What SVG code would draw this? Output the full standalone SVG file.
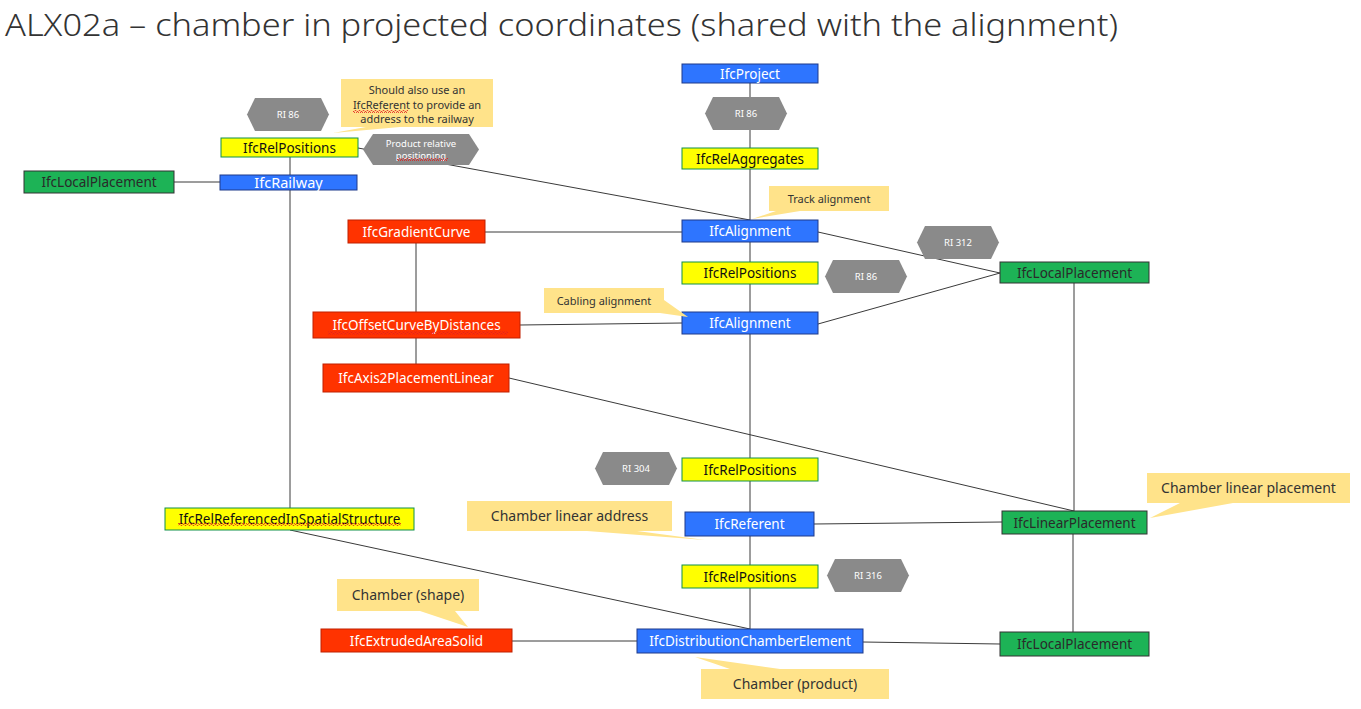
<svg xmlns="http://www.w3.org/2000/svg" width="1361" height="709" viewBox="0 0 1361 709">
<defs>
<style>
.t{font-family:"Noto Sans","Open Sans","DejaVu Sans",sans-serif;text-anchor:middle}
.blue rect{fill:#2E75FF;stroke:#1F3A8A;stroke-width:1}
.blue text{fill:#fff;font-size:13.5px}
.red rect{fill:#FF3300;stroke:#C02000;stroke-width:1}
.red text{fill:#fff;font-size:13.5px}
.yel rect{fill:#FFFF00;stroke:#10904A;stroke-width:1}
.yel text{fill:#111;font-size:13.5px}
.grn rect{fill:#1DB356;stroke:#333;stroke-width:1}
.grn text{fill:#2a2a2a;font-size:13.5px}
.hex polygon{fill:#8A8A8A}
.hex text{fill:#fff;font-size:9.5px}
.call path{fill:#FFE38A}
.call text{fill:#333}
.s{font-size:11px}
.m{font-size:14px}
#conn line{stroke:#3a3a3a;stroke-width:1}
</style>
<pattern id="sq" width="4" height="3" patternUnits="userSpaceOnUse">
<polyline points="0,2.5 1,0.5 2,0.5 3,2.5 4,2.5" fill="none" stroke="#E02020" stroke-width="0.8"/>
</pattern>
</defs>
<rect width="1361" height="709" fill="#fff"/>
<text x="5" y="36" textLength="1113" lengthAdjust="spacingAndGlyphs" style="font-family:'Noto Sans','Open Sans',sans-serif;font-weight:300;font-size:32px;fill:#333">ALX02a – chamber in projected coordinates (shared with the alignment)</text>

<g id="conn">
<line x1="750" y1="83" x2="750" y2="629"/>
<line x1="290" y1="157" x2="290" y2="508"/>
<line x1="174" y1="182" x2="220" y2="182"/>
<line x1="358" y1="148" x2="750" y2="220"/>
<line x1="485" y1="232" x2="682" y2="232"/>
<line x1="416" y1="243" x2="416" y2="312"/>
<line x1="416" y1="338" x2="416" y2="364"/>
<line x1="520" y1="325" x2="682" y2="323"/>
<line x1="818" y1="232" x2="1000" y2="273"/>
<line x1="818" y1="324" x2="1000" y2="273"/>
<line x1="1074" y1="283" x2="1074" y2="511"/>
<line x1="509" y1="378" x2="1074" y2="511"/>
<line x1="814" y1="524" x2="1002" y2="522"/>
<line x1="1073" y1="534" x2="1073" y2="632"/>
<line x1="863" y1="642" x2="1000" y2="644"/>
<line x1="512" y1="641" x2="637" y2="641"/>
<line x1="290" y1="530" x2="750" y2="629"/>
</g>

<g id="n-project" class="blue t"><rect x="682" y="64" width="136" height="19"/><text x="750" y="78.5">IfcProject</text></g>
<g id="n-relagg" class="yel t"><rect x="682" y="148" width="136" height="21"/><text x="750" y="163.5">IfcRelAggregates</text></g>
<g id="n-align1" class="blue t"><rect x="682" y="220" width="136" height="22"/><text x="750" y="236">IfcAlignment</text></g>
<g id="n-relpos2" class="yel t"><rect x="682" y="262" width="136" height="22"/><text x="750" y="278">IfcRelPositions</text></g>
<g id="n-align2" class="blue t"><rect x="682" y="312" width="136" height="22"/><text x="750" y="328">IfcAlignment</text></g>
<g id="n-relpos3" class="yel t"><rect x="682" y="458" width="136" height="23"/><text x="750" y="474.5">IfcRelPositions</text></g>
<g id="n-referent" class="blue t"><rect x="685" y="512" width="129" height="24"/><text x="749.5" y="529">IfcReferent</text></g>
<g id="n-relpos4" class="yel t"><rect x="682" y="565" width="136" height="23"/><text x="750" y="581.5">IfcRelPositions</text></g>
<g id="n-chamber" class="blue t"><rect x="637" y="629" width="226" height="24"/><text x="750" y="646">IfcDistributionChamberElement</text></g>
<g id="n-gradient" class="red t"><rect x="348" y="220" width="137" height="23"/><text x="416.5" y="236.5">IfcGradientCurve</text></g>
<g id="n-offset" class="red t"><rect x="313" y="312" width="207" height="26"/><text x="416.5" y="330">IfcOffsetCurveByDistances</text><rect x="328" y="331.5" width="180" height="3" style="fill:url(#sq);stroke:none"/></g>
<g id="n-axis2" class="red t"><rect x="323" y="364" width="186" height="28"/><text x="416" y="383">IfcAxis2PlacementLinear</text></g>
<g id="n-extruded" class="red t"><rect x="321" y="629" width="191" height="23"/><text x="416.5" y="645.5">IfcExtrudedAreaSolid</text></g>
<g id="n-relref" class="yel t"><rect x="165" y="508" width="249" height="22"/><text x="289.5" y="524">IfcRelReferencedInSpatialStructure</text><rect x="178" y="523" width="223" height="3" style="fill:url(#sq);stroke:none"/></g>
<g id="n-railway" class="blue t"><rect x="220" y="175" width="137" height="15"/><text x="288.5" y="188" style="font-size:14.5px">IfcRailway</text></g>
<g id="n-relpos1" class="yel t"><rect x="221" y="138" width="137" height="19"/><text x="289.5" y="152.5">IfcRelPositions</text></g>
<g id="n-locpl1" class="grn t"><rect x="24" y="171" width="150" height="22"/><text x="99" y="187">IfcLocalPlacement</text></g>
<g id="n-locpl2" class="grn t"><rect x="1000" y="262" width="149" height="21"/><text x="1074.5" y="277.5">IfcLocalPlacement</text></g>
<g id="n-linpl" class="grn t"><rect x="1002" y="511" width="145" height="23"/><text x="1074.5" y="527.5">IfcLinearPlacement</text></g>
<g id="n-locpl3" class="grn t"><rect x="1000" y="632" width="149" height="24"/><text x="1074.5" y="649">IfcLocalPlacement</text></g>

<g id="h-ri86a" class="hex t"><polygon points="247,114.5 255,98 321,98 329,114.5 321,131 255,131"/><text x="288" y="118">RI 86</text></g>
<g id="h-ri86b" class="hex t"><polygon points="705,113.5 713,97 779,97 787,113.5 779,130 713,130"/><text x="746" y="117">RI 86</text></g>
<g id="h-ri312" class="hex t"><polygon points="917,242.5 925,226 991,226 999,242.5 991,259 925,259"/><text x="958" y="246">RI 312</text></g>
<g id="h-ri86c" class="hex t"><polygon points="825,276.5 833,260 899,260 907,276.5 899,293 833,293"/><text x="866" y="280">RI 86</text></g>
<g id="h-ri304" class="hex t"><polygon points="595,468.5 603,452 669,452 677,468.5 669,485 603,485"/><text x="636" y="472">RI 304</text></g>
<g id="h-ri316" class="hex t"><polygon points="827,575.5 835,559 901,559 909,575.5 901,592 835,592"/><text x="868" y="579">RI 316</text></g>
<g id="h-prodrel" class="hex t"><polygon points="363,149.5 373,134 469,134 479,149.5 469,165 373,165"/><text x="421" y="147">Product relative</text><text x="421" y="159">positioning</text><rect x="397" y="158" width="51" height="3" style="fill:url(#sq)"/></g>

<g id="c-should" class="call t"><path d="M341,79 H493 V127 H400 L333,133 L366,127 H341 Z"/><text class="s" x="417" y="94">Should also use an</text><text class="s" x="417" y="108.5">IfcReferent to provide an</text><text class="s" x="417" y="123">address to the railway</text><rect x="353" y="110" width="55" height="3" style="fill:url(#sq)"/></g>
<g id="c-track" class="call t"><path d="M769,186 H889 V211 H800 L752,219 L776,211 H769 Z"/><text class="s" x="829" y="202.5">Track alignment</text></g>
<g id="c-cabling" class="call t"><path d="M544,288 H664 V300 L688,317 L660,313 H544 Z"/><text class="s" x="604" y="304.5">Cabling alignment</text></g>
<g id="c-address" class="call t"><path d="M467,501 H672 V531 H637 L705,540 L587,531 H467 Z"/><text class="m" x="569.5" y="521">Chamber linear address</text></g>
<g id="c-linpl" class="call t"><path d="M1147,473 H1350 V503 H1233 L1150,518 L1180,503 H1147 Z"/><text class="m" x="1248.5" y="493">Chamber linear placement</text></g>
<g id="c-shape" class="call t"><path d="M337,579 H479 V611 H455 L468,627 L420,611 H337 Z"/><text class="m" x="408" y="600">Chamber (shape)</text></g>
<g id="c-product" class="call t"><path d="M701,669 H730 L695,657 L780,669 H889 V699 H701 Z"/><text class="m" x="795" y="689">Chamber (product)</text></g>
</svg>
